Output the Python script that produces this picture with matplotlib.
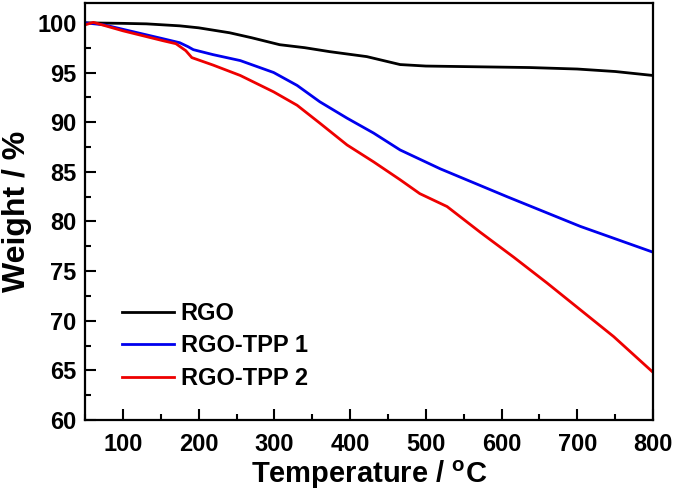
import numpy as np
import matplotlib.pyplot as plt
from matplotlib.ticker import MultipleLocator

plt.rcParams['font.family'] = ['Liberation Sans', 'DejaVu Sans']
plt.rcParams['font.weight'] = 'bold'

# 数据 (温度 / 失重)
temp_rgo = [50, 100, 131, 175, 200, 241, 270, 307, 340, 373, 422, 466, 500, 637, 700, 750, 800]
weight_rgo = [100.0, 99.95, 99.9, 99.7, 99.5, 99.0, 98.5, 97.8, 97.5, 97.1, 96.6, 95.8, 95.65, 95.5, 95.35, 95.1, 94.7]

temp_tpp1 = [50, 75, 100, 153, 175, 186, 193, 219, 255, 299, 330, 360, 396, 431, 466, 519, 607, 704, 800]
weight_tpp1 = [100.0, 99.8, 99.35, 98.4, 98.0, 97.6, 97.3, 96.8, 96.2, 95.0, 93.7, 92.05, 90.4, 88.9, 87.2, 85.3, 82.5, 79.5, 76.9]

temp_tpp2 = [50, 61, 100, 153, 170, 183, 191, 219, 255, 299, 330, 360, 396, 431, 466, 492, 528, 572, 616, 660, 748, 800]
weight_tpp2 = [99.8, 100.05, 99.2, 98.2, 97.9, 97.2, 96.5, 95.75, 94.7, 93.05, 91.7, 89.9, 87.7, 86.0, 84.2, 82.8, 81.5, 78.9, 76.4, 73.8, 68.4, 64.8]

fig = plt.figure(figsize=(6.75, 4.92), dpi=100)
ax = fig.add_axes([0.126, 0.1463, 0.8415, 0.8476])

ax.plot(temp_rgo, weight_rgo, color='black', lw=2.0, label='RGO')
ax.plot(temp_tpp1, weight_tpp1, color='#0000ee', lw=2.0, label='RGO-TPP 1')
ax.plot(temp_tpp2, weight_tpp2, color='#ee0000', lw=2.0, label='RGO-TPP 2')

ax.set_xlim(50, 800)
ax.set_ylim(60, 102)
ax.xaxis.set_major_locator(MultipleLocator(100))
ax.xaxis.set_minor_locator(MultipleLocator(50))
ax.yaxis.set_major_locator(MultipleLocator(5))
ax.yaxis.set_minor_locator(MultipleLocator(2.5))
ax.tick_params(which='both', direction='in', width=1.5, labelsize=17)
ax.tick_params(which='major', length=8, pad=6)
ax.tick_params(axis='x', which='major', pad=9)
ax.tick_params(which='minor', length=4.5)
for s in ax.spines.values():
    s.set_linewidth(1.6)

ax.set_xlabel('Temperature / $\\mathregular{^oC}$', fontsize=21, fontweight='bold', labelpad=2)
ax.set_ylabel('Weight / %', fontsize=23, fontweight='bold', labelpad=4)

ax.legend(loc='upper left', bbox_to_anchor=(0.0646, 0.283), frameon=False,
          fontsize=17, handlelength=2.2, handletextpad=0.3, labelspacing=0.4,
          borderpad=0, borderaxespad=0)

fig.savefig('out.png', dpi=100)
